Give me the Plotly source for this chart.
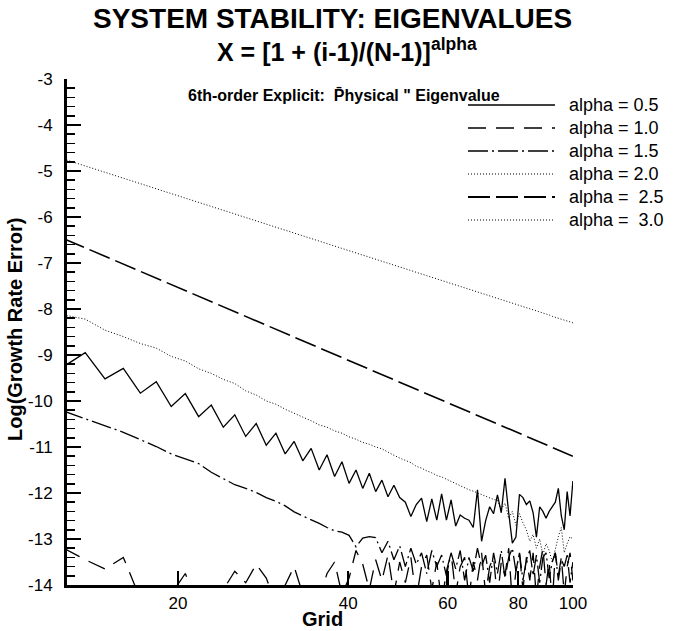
import math
import plotly.graph_objects as go

# ---------------- data ----------------
grid_n = [12.55, 13.70, 14.85, 16.00, 17.15, 18.30, 19.45, 20.60, 21.75, 22.90,
          24.05, 25.20, 26.35, 27.50, 28.65, 29.80, 30.95, 32.10, 33.25, 34.40,
          35.55, 36.70, 37.85, 39.00, 40.15, 41.30, 42.45, 43.60, 44.75, 45.90,
          47.05, 48.20, 49.35, 50.50, 51.65, 52.80, 53.95, 55.10, 56.25, 57.40,
          58.55, 59.70, 60.85, 62.00, 63.15, 64.30, 65.45, 66.60, 67.75, 68.90,
          70.05, 71.20, 72.35, 73.50, 74.65, 75.80, 76.95, 78.10, 79.25, 80.40,
          81.55, 82.70, 83.85, 85.00, 86.15, 87.30, 88.45, 89.60, 90.75, 91.90,
          93.05, 94.20, 95.35, 96.50, 97.65, 98.80, 99.95]

err_a05 = [-9.25, -8.95, -9.52, -9.29, -9.83, -9.58, -10.12, -9.84, -10.34, -10.09,
           -10.57, -10.30, -10.77, -10.49, -10.96, -10.70, -11.15, -10.88, -11.30, -11.03,
           -11.50, -11.17, -11.64, -11.32, -11.79, -11.50, -11.90, -11.57, -11.97, -11.72,
           -12.08, -11.83, -12.10, -12.20, -12.51, -12.25, -12.11, -12.62, -12.13, -12.59,
           -12.02, -12.59, -12.15, -12.72, -12.48, -12.55, -12.59, -12.75, -11.93, -13.05,
           -12.60, -12.30, -12.45, -12.04, -12.43, -11.68, -12.43, -13.09, -12.96, -12.03,
           -12.10, -12.25, -12.17, -12.43, -12.96, -12.30, -12.40, -12.55, -12.40, -12.30,
           -12.20, -11.90, -12.50, -12.80, -11.97, -12.50, -11.74]

err_a10 = [-13.20, -13.45, -13.65, -13.40, -14.30, -14.60, -14.20, -13.75, -14.50, -14.80,
           -14.10, -13.70, -13.95, -13.55, -13.85, -14.40, -14.00, -13.60, -14.20, -14.60,
           -14.30, -13.75, -13.50, -14.20, -13.85, -13.25, -13.55, -14.10, -13.45, -13.90,
           -13.35, -14.20, -13.50, -13.95, -13.40, -14.30, -13.60, -13.35, -14.10, -13.50,
           -14.40, -13.70, -13.30, -14.20, -13.60, -13.40, -14.30, -13.50, -13.90, -13.30,
           -14.20, -13.60, -13.40, -14.30, -13.50, -13.80, -13.20, -14.40, -13.70, -13.30,
           -14.10, -13.40, -13.90, -13.30, -14.30, -13.60, -13.20, -14.00, -13.50, -14.40,
           -13.30, -13.80, -13.40, -14.20, -13.60, -13.30, -13.90]

err_a15 = [-10.22, -10.39, -10.54, -10.68, -10.84, -10.99, -11.15, -11.25, -11.36, -11.55,
           -11.68, -11.82, -11.90, -11.99, -12.10, -12.18, -12.28, -12.41, -12.50, -12.58,
           -12.66, -12.75, -12.82, -12.85, -12.92, -13.17, -12.98, -12.95, -12.97, -13.30,
           -13.05, -13.45, -13.15, -13.60, -13.20, -13.55, -13.30, -13.75, -13.25, -13.60,
           -13.35, -13.80, -13.30, -13.65, -13.25, -13.90, -13.40, -13.70, -13.20, -13.60,
           -13.35, -13.95, -13.30, -13.75, -13.25, -13.85, -13.40, -13.20, -13.70, -13.30,
           -13.90, -13.45, -13.25, -13.80, -13.35, -13.95, -13.40, -13.30, -13.85, -13.50,
           -13.30, -13.90, -13.45, -13.60, -13.35, -13.95, -13.50]

err_a20 = [-8.13, -8.22, -8.46, -8.60, -8.75, -8.85, -9.03, -9.13, -9.30, -9.40,
           -9.53, -9.62, -9.78, -9.87, -10.00, -10.07, -10.18, -10.26, -10.35, -10.43,
           -10.52, -10.57, -10.65, -10.70, -10.78, -10.83, -10.90, -10.94, -11.00, -11.04,
           -11.12, -11.18, -11.24, -11.29, -11.34, -11.42, -11.46, -11.52, -11.56, -11.62,
           -11.65, -11.70, -11.75, -11.80, -11.84, -11.88, -11.93, -11.96, -12.00, -12.03,
           -12.07, -12.10, -12.14, -12.16, -12.35, -12.22, -12.55, -12.40, -12.70, -12.45,
           -12.65, -12.80, -13.05, -12.90, -13.20, -13.00, -13.35, -13.10, -13.25, -13.50,
           -13.20, -12.95, -12.75, -13.30, -13.10, -12.95, -13.00]

err_a25 = [-6.47, -6.67, -6.85, -7.02, -7.18, -7.33, -7.47, -7.60, -7.72, -7.84,
           -7.95, -8.06, -8.16, -8.26, -8.35, -8.44, -8.53, -8.61, -8.69, -8.77,
           -8.84, -8.92, -8.99, -9.05, -9.12, -9.18, -9.25, -9.31, -9.37, -9.42,
           -9.48, -9.54, -9.59, -9.64, -9.69, -9.74, -9.79, -9.84, -9.89, -9.93,
           -9.98, -10.02, -10.07, -10.11, -10.15, -10.19, -10.23, -10.27, -10.31, -10.35,
           -10.39, -10.42, -10.46, -10.50, -10.53, -10.57, -10.60, -10.64, -10.67, -10.70,
           -10.73, -10.77, -10.80, -10.83, -10.86, -10.89, -10.92, -10.95, -10.98, -11.01,
           -11.03, -11.06, -11.09, -11.12, -11.14, -11.17, -11.20]

err_a30 = [-4.74, -4.89, -5.03, -5.15, -5.27, -5.38, -5.49, -5.59, -5.68, -5.77,
           -5.85, -5.93, -6.01, -6.08, -6.15, -6.22, -6.29, -6.35, -6.41, -6.47,
           -6.52, -6.58, -6.63, -6.68, -6.73, -6.78, -6.83, -6.87, -6.92, -6.96,
           -7.00, -7.05, -7.09, -7.13, -7.16, -7.20, -7.24, -7.28, -7.31, -7.35,
           -7.38, -7.41, -7.45, -7.48, -7.51, -7.54, -7.57, -7.60, -7.63, -7.66,
           -7.69, -7.72, -7.74, -7.77, -7.80, -7.82, -7.85, -7.87, -7.90, -7.92,
           -7.95, -7.97, -8.00, -8.02, -8.04, -8.07, -8.09, -8.11, -8.13, -8.16,
           -8.18, -8.20, -8.22, -8.24, -8.26, -8.28, -8.30]

series_labels = ["alpha = 0.5", "alpha = 1.0", "alpha = 1.5",
                 "alpha = 2.0", "alpha =\u00a0 2.5", "alpha =\u00a0 3.0"]
x_tick_vals = [20, 40, 60, 80, 100]
y_tick_vals = [-3, -4, -5, -6, -7, -8, -9, -10, -11, -12, -13, -14]

# ---------------- styling ----------------
FONT = "Liberation Sans, Arial, Helvetica, sans-serif"
series_values = [err_a05, err_a10, err_a15, err_a20, err_a25, err_a30]
styles = [
    dict(dash="solid", width=1.3),
    dict(dash="18px,10px", width=1.3),
    dict(dash="20px,4px,2px,4px", width=1.3),
    dict(dash="1px,2px", width=1.0),
    dict(dash="22px,6px", width=1.6),
    dict(dash="1px,2px", width=1.0),
]

W, H = 678, 631
# target plot area on screen: x 67..573, y 79..585
L, T = 67, 79
R = W - 573
B = H - 585
plot_w = W - L - R
plot_h = H - T - B

fig = go.Figure()
for vals, st, lab in zip(series_values, styles, series_labels):
    fig.add_trace(go.Scatter(x=grid_n, y=vals, mode="lines", name=lab,
                             line=dict(color="black", width=st["width"], dash=st["dash"]),
                             showlegend=False, hoverinfo="skip"))

def px_x(px):
    return (px - L) / plot_w

def px_y(py):
    return (H - B - py) / plot_h

shapes = []
annotations = []
for i, (lab, st) in enumerate(zip(series_labels, styles)):
    py = 105 + 23 * i
    shapes.append(dict(type="line", xref="paper", yref="paper",
                       x0=px_x(468), x1=px_x(555), y0=px_y(py), y1=px_y(py),
                       line=dict(color="black", width=st["width"] + 0.2, dash=st["dash"])))
    annotations.append(dict(xref="paper", yref="paper", x=px_x(567), y=px_y(py),
                            xanchor="left", yanchor="middle", showarrow=False,
                            text=lab, font=dict(family=FONT, size=18, color="black")))

annotations.append(dict(xref="paper", yref="paper", x=px_x(344), y=px_y(95),
                        xanchor="center", yanchor="middle", showarrow=False,
                        text="6th-order Explicit:\u00a0 P\u0304hysical \" Eigenvalue",
                        font=dict(family=FONT, size=16, color="black", weight="bold")))
annotations.append(dict(xref="paper", yref="paper", x=px_x(332), y=px_y(18),
                        xanchor="center", yanchor="middle", showarrow=False,
                        text="SYSTEM STABILITY: EIGENVALUES",
                        font=dict(family=FONT, size=28, color="black", weight="bold")))
annotations.append(dict(xref="paper", yref="paper", x=px_x(347), y=px_y(50),
                        xanchor="center", yanchor="middle", showarrow=False,
                        text="X = [1 + (i-1)/(N-1)]<sup>alpha</sup>",
                        font=dict(family=FONT, size=25, color="black", weight="bold")))
annotations.append(dict(xref="paper", yref="paper", x=px_x(322), y=px_y(619),
                        xanchor="center", yanchor="middle", showarrow=False,
                        text="Grid",
                        font=dict(family=FONT, size=20, color="black", weight="bold")))
annotations.append(dict(xref="paper", yref="paper", x=px_x(15), y=px_y(330),
                        xanchor="center", yanchor="middle", showarrow=False, textangle=-90,
                        text="Log(Growth Rate Error)",
                        font=dict(family=FONT, size=20, color="black", weight="bold")))

fig.update_layout(
    width=W, height=H,
    margin=dict(l=L, r=R, t=T, b=B, pad=0, autoexpand=False),
    paper_bgcolor="white", plot_bgcolor="white",
    shapes=shapes, annotations=annotations,
    font=dict(family=FONT, color="black"),
    hovermode=False,
)
fig.update_xaxes(
    type="log", range=[math.log10(12.72), 2.0], automargin=False,
    tickvals=x_tick_vals, ticktext=[str(v) for v in x_tick_vals],
    ticks="inside", ticklen=14, tickwidth=2.5, tickcolor="black",
    showline=True, linewidth=3, linecolor="black", showgrid=False, zeroline=False,
    tickfont=dict(family=FONT, size=17, color="black"), ticklabelstandoff=1,
)
fig.update_yaxes(
    range=[-14, -3], automargin=False,
    tickvals=y_tick_vals, ticktext=[str(v) for v in y_tick_vals],
    ticks="inside", ticklen=14, tickwidth=2.5, tickcolor="black",
    minor=dict(dtick=0.2, ticks="inside", ticklen=8, tickwidth=1.5, tickcolor="black"),
    showline=True, linewidth=3, linecolor="black", showgrid=False, zeroline=False,
    tickfont=dict(family=FONT, size=17, color="black"), ticklabelstandoff=8,
)

# remove the page's default 8px body margin so the figure sits at the window origin
fig.write_html("out.html",
               config={"displayModeBar": False, "staticPlot": True},
               post_script="document.body.style.margin='0px';document.body.style.padding='0px';")
